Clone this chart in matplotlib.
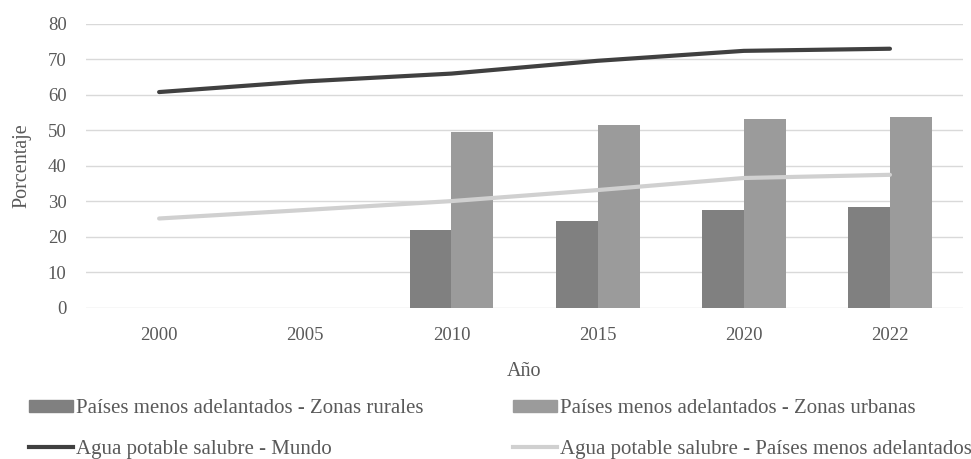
import numpy as np
import matplotlib
matplotlib.use('Agg')
import matplotlib.pyplot as plt
from matplotlib.patches import Patch
from matplotlib.lines import Line2D

plt.rcParams['font.family'] = ['Liberation Serif', 'DejaVu Serif']

# Datos
anios = ['2000', '2005', '2010', '2015', '2020', '2022']
rural = [np.nan, np.nan, 22.0, 24.5, 27.6, 28.4]
urbana = [np.nan, np.nan, 49.6, 51.5, 53.2, 53.8]
mundo = [60.8, 63.8, 66.0, 69.6, 72.4, 73.0]
pma = [25.2, 27.6, 30.1, 33.2, 36.6, 37.5]

txt = '#595959'
fig = plt.figure(figsize=(9.71, 4.59), dpi=100)
ax = fig.add_axes([0.0886, 0.329, 0.9032, 0.619])

x = np.arange(len(anios))
w = 0.287
ax.bar(x - w / 2, rural, w, color='#808080', zorder=2)
ax.bar(x + w / 2, urbana, w, color='#9b9b9b', zorder=2)
ax.plot(x, mundo, color='#404040', lw=3, solid_capstyle='round', zorder=3)
ax.plot(x, pma, color='#d0d0d0', lw=3, solid_capstyle='round', zorder=3)

ax.set_xlim(-0.5, len(anios) - 0.5)
ax.set_ylim(0, 80)
ax.set_yticks(range(0, 81, 10))
ax.set_xticks(x)
ax.set_xticklabels(anios)
ax.grid(axis='y', color='#d9d9d9', lw=1, zorder=0)
for s in ax.spines.values():
    s.set_visible(False)
ax.tick_params(length=0, labelsize=13.5, colors=txt, pad=14)
ax.tick_params(axis='y', pad=14)
ax.set_xlabel('Año', fontsize=14.5, color=txt, labelpad=13)
ax.set_ylabel('Porcentaje', fontsize=14.5, color=txt, labelpad=12)

h1 = [Patch(color='#808080'), Line2D([], [], color='#404040', lw=3)]
l1 = ['Países menos adelantados - Zonas rurales', 'Agua potable salubre - Mundo']
h2 = [Patch(color='#9b9b9b'), Line2D([], [], color='#d0d0d0', lw=3)]
l2 = ['Países menos adelantados - Zonas urbanas', 'Agua potable salubre - Países menos adelantados']
kw = dict(frameon=False, prop={'family': 'Liberation Serif', 'size': 15},
          labelcolor=txt, handlelength=2.1,
          handleheight=0.5, handletextpad=0.15, labelspacing=1.05,
          borderpad=0, borderaxespad=0, loc='upper left')
fig.legend(h1, l1, bbox_to_anchor=(29 / 971, 1 - 399 / 459), **kw)
fig.legend(h2, l2, bbox_to_anchor=(513 / 971, 1 - 399 / 459), **kw)

fig.savefig('out.png', dpi=100)
